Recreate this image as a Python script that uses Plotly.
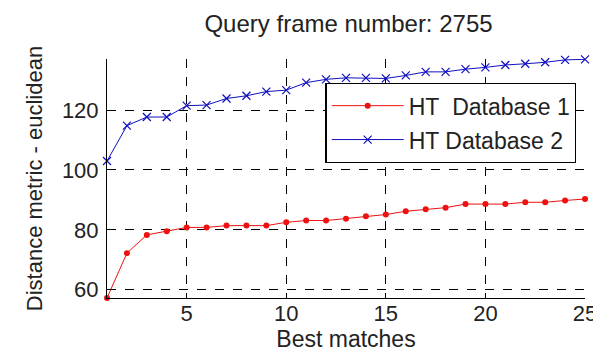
import plotly.graph_objects as go

best_matches = list(range(1, 26))
db1 = [57.2, 72.2, 78.3, 79.5, 80.8, 80.8, 81.4, 81.4, 81.4, 82.5, 83.1, 83.1, 83.7,
       84.5, 85.1, 86.2, 86.9, 87.4, 88.6, 88.6, 88.6, 89.2, 89.2, 89.8, 90.3]
db2 = [103.0, 114.8, 117.7, 117.7, 121.5, 121.7, 123.9, 124.8, 126.2, 126.7, 129.2,
       130.3, 130.8, 130.8, 130.6, 131.6, 132.8, 132.8, 133.7, 134.3, 135.1, 135.5,
       136.0, 136.8, 137.0]
x_ticks = [5, 10, 15, 20, 25]
y_ticks = [60, 80, 100, 120]
names = ["HT\u00a0 Database 1", "HT Database 2"]
title = "Query frame number: 2755"
x_title = "Best matches"
y_title = "Distance metric - euclidean"

FONT = "Liberation Sans, Arial, sans-serif"
TXT = "#222"

fig = go.Figure()
fig.add_trace(go.Scatter(x=best_matches, y=db1, name=names[0], mode="lines+markers",
                         legendgroup="a",
                         line=dict(color="#ee1111", width=1),
                         marker=dict(symbol="circle", size=6, color="#ee1111"),
                         cliponaxis=False))
fig.add_trace(go.Scatter(x=best_matches, y=db2, name=names[1], mode="lines+markers",
                         legendgroup="b",
                         line=dict(color="#1010c0", width=1),
                         marker=dict(symbol="x-thin", size=8,
                                     line=dict(color="#1010c0", width=1.2)),
                         cliponaxis=False))

axis_common = dict(showgrid=True, gridcolor="black", griddash="dash", gridwidth=1,
                   showline=True, linecolor="black", linewidth=1,
                   ticks="inside", ticklen=5, tickcolor="black",
                   zeroline=False, tickfont=dict(family=FONT, size=22, color=TXT))

fig.update_xaxes(range=[1, 25], tickvals=x_ticks, **axis_common,
                 ticklabelstandoff=-4,
                 title=dict(text=x_title, font=dict(family=FONT, size=23, color=TXT),
                            standoff=0))
fig.update_yaxes(range=[57.2, 137.1], tickvals=y_ticks, **axis_common,
                 ticklabelstandoff=3,
                 title=dict(text=y_title, font=dict(family=FONT, size=22, color=TXT),
                            standoff=13))

fig.update_layout(
    width=601, height=354,
    margin=dict(l=99, r=19, t=51, b=64),
    paper_bgcolor="white", plot_bgcolor="white",
    title=dict(text=title, x=0.5666, xanchor="center", y=0.955, yanchor="middle",
               font=dict(family=FONT, size=24, color=TXT)),
    showlegend=True,
    legend=dict(x=0.982, xanchor="right", y=0.9, yanchor="top",
                bgcolor="white", bordercolor="black", borderwidth=1.3,
                font=dict(family=FONT, size=23, color=TXT),
                itemwidth=72, tracegroupgap=1),
)

fig.write_html("out.html")
